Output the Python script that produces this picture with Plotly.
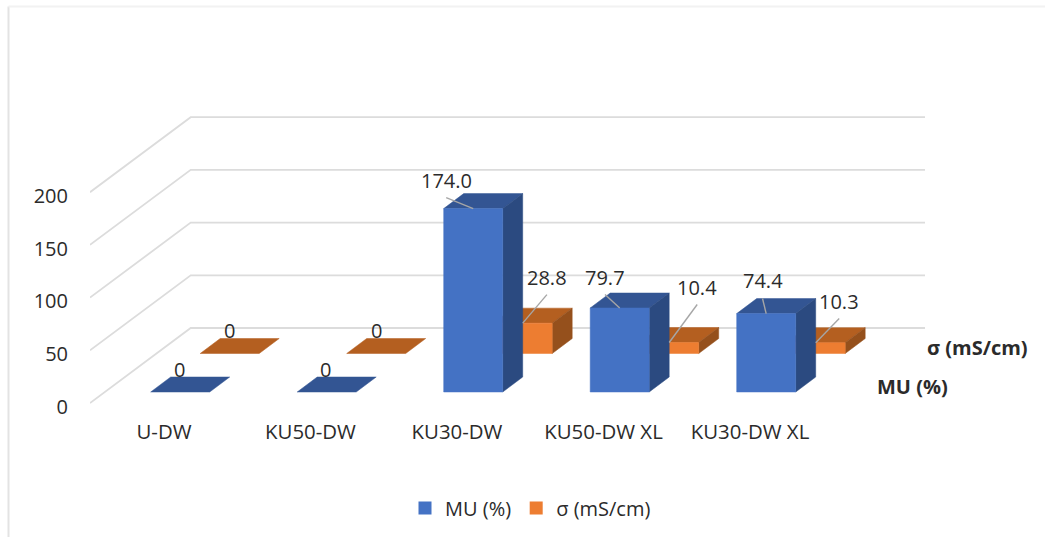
"""Faux 3D column chart of water uptake and conductivity, drawn on plain 2D axes."""

import plotly.graph_objects as go

CATEGORIES = ["U-DW", "KU50-DW", "KU30-DW", "KU50-DW XL", "KU30-DW XL"]
MU_VALUES = [0, 0, 174.0, 79.7, 74.4]
SIGMA_VALUES = [0, 0, 28.8, 10.4, 10.3]
MU_LABELS = ["0", "0", "174.0", "79.7", "74.4"]
SIGMA_LABELS = ["0", "0", "28.8", "10.4", "10.3"]
VALUE_TICKS = [0, 50, 100, 150, 200]

FONT = "Open Sans, Arial, sans-serif"
TEXT = "#2b2b2b"
GRID = "#dcdcdc"
LEADER = "#a6a6a6"

# picture scale and plot box, pixels
PX_LEFT, PX_RIGHT, PX_TOP, PX_BOTTOM = 90, 925, 100, 413
PX_FLOOR = 403
PX_CATEGORY = 146.5
PX_UNIT = 1.054
PX_FIRST_TICK = 164
PX_TICK_DROP = 3.7

BAR_WIDTH = 59 / PX_CATEGORY
DEPTH_X = 20 / PX_CATEGORY
DEPTH_Y = 15 / PX_UNIT
WALL_X = 100.7 / PX_CATEGORY
WALL_Y = 75 / PX_UNIT

# (bar left from tick, floor height) for each row, plus label offsets in pixels
MU_ROW = (-13.3 / PX_CATEGORY, 11 / PX_UNIT)
SIGMA_ROW = (36.2 / PX_CATEGORY, 49.5 / PX_UNIT)
MU_OFFSETS = [(-1, -23), (-1, -23), (-27, -28.5), (-14.7, -31), (-3.7, -32.6)]
SIGMA_OFFSETS = [(0, -23.5), (0, -23.5), (24.2, -46), (28, -55.5), (23.5, -41.6)]


def x_from_px(px):
    return (px - PX_FIRST_TICK) / PX_CATEGORY


def y_from_px(px):
    return (PX_FLOOR - px) / PX_UNIT


def paper_x(px):
    return (px - PX_LEFT) / (PX_RIGHT - PX_LEFT)


def paper_y(px):
    return (PX_BOTTOM - px) / (PX_BOTTOM - PX_TOP)


def add_face(fig, xs, ys, color):
    fig.add_trace(
        go.Scatter(
            x=xs + xs[:1],
            y=ys + ys[:1],
            mode="lines",
            fill="toself",
            fillcolor=color,
            line={"color": color, "width": 0.5},
            showlegend=False,
            hoverinfo="skip",
            cliponaxis=False,
        )
    )


def add_box(fig, index, value, row, colors):
    front, top, side = colors
    left = index + row[0]
    right = left + BAR_WIDTH
    base = row[1]
    head = base + value
    add_face(
        fig,
        [left, right, right + DEPTH_X, left + DEPTH_X],
        [head, head, head + DEPTH_Y, head + DEPTH_Y],
        top,
    )
    if value:
        add_face(
            fig,
            [right, right + DEPTH_X, right + DEPTH_X, right],
            [base, base + DEPTH_Y, head + DEPTH_Y, head],
            side,
        )
        add_face(fig, [left, right, right, left], [base, base, head, head], front)


def add_data_label(fig, index, value, text, row, offset):
    anchor_x = index + row[0] + BAR_WIDTH / 2
    anchor_y = row[1] + value
    if value:
        fig.add_trace(
            go.Scatter(
                x=[anchor_x + offset[0] / PX_CATEGORY, anchor_x],
                y=[anchor_y - (offset[1] + 17.5) / PX_UNIT, anchor_y],
                mode="lines",
                line={"color": LEADER, "width": 1.4},
                showlegend=False,
                hoverinfo="skip",
                cliponaxis=False,
            )
        )
    fig.add_annotation(
        x=anchor_x + offset[0] / PX_CATEGORY,
        y=anchor_y - offset[1] / PX_UNIT,
        text=text,
        showarrow=False,
        font={"size": 20, "color": TEXT, "family": FONT},
    )


fig = go.Figure()

left_edge = x_from_px(PX_LEFT)
right_edge = x_from_px(PX_RIGHT)
for tick in VALUE_TICKS:
    fig.add_trace(
        go.Scatter(
            x=[left_edge, left_edge + WALL_X, right_edge],
            y=[tick, tick + WALL_Y, tick + WALL_Y],
            mode="lines",
            line={"color": GRID, "width": 1.8},
            showlegend=False,
            hoverinfo="skip",
            cliponaxis=False,
        )
    )

# back row first so the blue columns cover it
for i, value in enumerate(SIGMA_VALUES):
    add_box(fig, i, value, SIGMA_ROW, ("#ed7d31", "#b45f20", "#95501c"))
for i, value in enumerate(MU_VALUES):
    add_box(fig, i, value, MU_ROW, ("#4472c4", "#335593", "#2b4a80"))

for i, value in enumerate(SIGMA_VALUES):
    add_data_label(fig, i, value, SIGMA_LABELS[i], SIGMA_ROW, SIGMA_OFFSETS[i])
for i, value in enumerate(MU_VALUES):
    add_data_label(fig, i, value, MU_LABELS[i], MU_ROW, MU_OFFSETS[i])

for name, color in (("MU (%)", "#4472c4"), ("σ (mS/cm)", "#ed7d31")):
    fig.add_trace(
        go.Scatter(
            x=[None],
            y=[None],
            mode="markers",
            name=name,
            marker={"symbol": "square", "size": 13, "color": color},
        )
    )

for text, px, py in (("σ (mS/cm)", 977, 347), ("MU (%)", 912, 386)):
    fig.add_annotation(
        x=paper_x(px),
        y=paper_y(py),
        xref="paper",
        yref="paper",
        xanchor="center",
        yanchor="middle",
        text=f"<b>{text}</b>",
        showarrow=False,
        font={"size": 20, "color": TEXT, "family": FONT},
    )

# thin frame left over from the source picture
fig.add_shape(
    type="line", xref="paper", yref="paper",
    x0=paper_x(8.5), x1=paper_x(8.5), y0=paper_y(537), y1=paper_y(6.5),
    line={"color": "#e3e3e3", "width": 2},
)
fig.add_shape(
    type="line", xref="paper", yref="paper",
    x0=paper_x(8.5), x1=paper_x(1045), y0=paper_y(6.5), y1=paper_y(6.5),
    line={"color": "#f2f2f2", "width": 2},
)

fig.update_layout(
    width=1045,
    height=537,
    margin={"l": PX_LEFT, "r": 1045 - PX_RIGHT, "t": PX_TOP, "b": 537 - PX_BOTTOM, "pad": 0},
    paper_bgcolor="white",
    plot_bgcolor="white",
    font={"color": TEXT, "family": FONT, "size": 20},
    legend={
        "orientation": "h",
        "xref": "container",
        "yref": "container",
        "xanchor": "left",
        "yanchor": "middle",
        "x": 405 / 1045,
        "y": 1 - 508 / 537,
        "font": {"size": 20, "color": TEXT, "family": FONT},
    },
)
fig.update_xaxes(
    range=[left_edge, right_edge],
    tickvals=list(range(len(CATEGORIES))),
    ticktext=CATEGORIES,
    tickfont={"size": 20.4},
    showgrid=False,
    zeroline=False,
    showline=False,
    ticks="",
    ticklabelstandoff=5,
)
# tick labels sit a little below their gridline ends in the source
fig.update_yaxes(
    range=[y_from_px(PX_BOTTOM), y_from_px(PX_TOP)],
    tickvals=[tick - PX_TICK_DROP / PX_UNIT for tick in VALUE_TICKS],
    ticktext=[str(tick) for tick in VALUE_TICKS],
    showgrid=False,
    zeroline=False,
    showline=False,
    ticks="",
    ticklabelstandoff=21,
)

fig.write_html(
    "out.html",
    config={"displayModeBar": False},
    post_script="document.body.style.margin='0';document.body.style.overflow='hidden';",
)
